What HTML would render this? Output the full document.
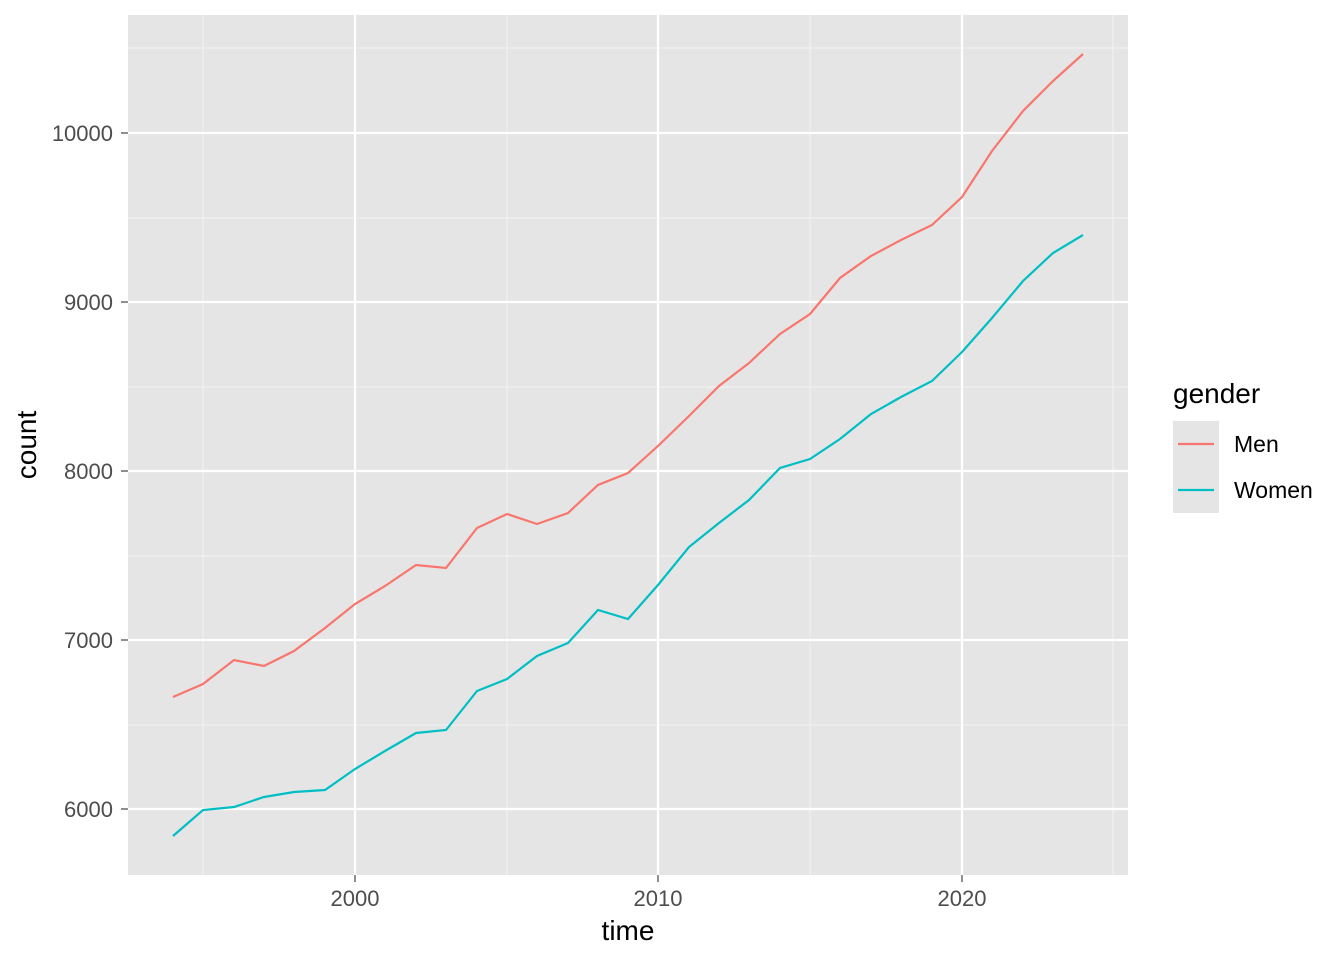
<!DOCTYPE html>
<html><head><style>
html,body{margin:0;padding:0;background:#fff;}
svg{display:block;font-family:"Liberation Sans",Arial,sans-serif;}
</style></head><body>
<svg width="1344" height="960" viewBox="0 0 1344 960" xmlns="http://www.w3.org/2000/svg">
<rect x="128" y="15" width="1000" height="860" fill="#e5e5e5"/>
<g stroke="#f2f2f2" stroke-width="1.1">
<line x1="128" x2="1128" y1="48" y2="48"/><line x1="128" x2="1128" y1="218" y2="218"/>
<line x1="128" x2="1128" y1="387" y2="387"/><line x1="128" x2="1128" y1="556" y2="556"/>
<line x1="128" x2="1128" y1="725" y2="725"/>
<line y1="15" y2="875" x1="203" x2="203"/><line y1="15" y2="875" x1="507" x2="507"/>
<line y1="15" y2="875" x1="810" x2="810"/><line y1="15" y2="875" x1="1113" x2="1113"/>
</g>
<g stroke="#fff" stroke-width="2.2">
<line x1="128" x2="1128" y1="133" y2="133"/><line x1="128" x2="1128" y1="302" y2="302"/>
<line x1="128" x2="1128" y1="471" y2="471"/><line x1="128" x2="1128" y1="640" y2="640"/>
<line x1="128" x2="1128" y1="809" y2="809"/>
<line y1="15" y2="875" x1="355" x2="355"/><line y1="15" y2="875" x1="658" x2="658"/>
<line y1="15" y2="875" x1="962" x2="962"/>
</g>
<polyline fill="none" stroke="#F8766D" stroke-width="2.2" points="173,697 203,684 234,660 264,666 294,651 325,628 355,604 385,586 416,565 446,568 477,528 507,514 537,524 568,513 598,485 628,473 658,446 689,416 719,386 749,363 780,334 810,314 840,278 871,256 901,240 932,225 962,197 992,151 1023,111 1053,81 1083,54"/>
<polyline fill="none" stroke="#00BFC4" stroke-width="2.2" points="173,836 203,810 234,807 264,797 294,792 325,790 355,769 385,751 416,733 446,730 477,691 507,679 537,656 568,643 598,610 628,619 658,585 689,547 719,523 749,500 780,468 810,459 840,439 871,414 901,397 932,381 962,352 992,318 1023,281 1053,253 1083,235"/>
<g fill="#4d4d4d" font-size="22" text-anchor="end">
<text x="113" y="141">10000</text><text x="113" y="310">9000</text>
<text x="113" y="479">8000</text><text x="113" y="648">7000</text><text x="113" y="817">6000</text>
</g>
<g stroke="#333" stroke-width="1.1">
<line x1="121" x2="128" y1="133" y2="133"/><line x1="121" x2="128" y1="302" y2="302"/>
<line x1="121" x2="128" y1="471" y2="471"/><line x1="121" x2="128" y1="640" y2="640"/>
<line x1="121" x2="128" y1="809" y2="809"/>
<line y1="875" y2="882" x1="355" x2="355"/><line y1="875" y2="882" x1="658" x2="658"/>
<line y1="875" y2="882" x1="962" x2="962"/>
</g>
<g fill="#4d4d4d" font-size="22" text-anchor="middle">
<text x="355" y="906">2000</text><text x="658" y="906">2010</text><text x="962" y="906">2020</text>
</g>
<text x="628" y="940" font-size="28" text-anchor="middle" fill="#000">time</text>
<text transform="translate(36,445) rotate(-90)" font-size="28" text-anchor="middle" fill="#000">count</text>
<text x="1173" y="403" font-size="28" fill="#000">gender</text>
<rect x="1173" y="421" width="46" height="92" fill="#e5e5e5"/>
<line x1="1178" x2="1214" y1="444" y2="444" stroke="#F8766D" stroke-width="2.2"/>
<line x1="1178" x2="1214" y1="490" y2="490" stroke="#00BFC4" stroke-width="2.2"/>
<text x="1234" y="452" font-size="23" fill="#000">Men</text>
<text x="1234" y="498" font-size="23" fill="#000">Women</text>
</svg>
</body></html>
